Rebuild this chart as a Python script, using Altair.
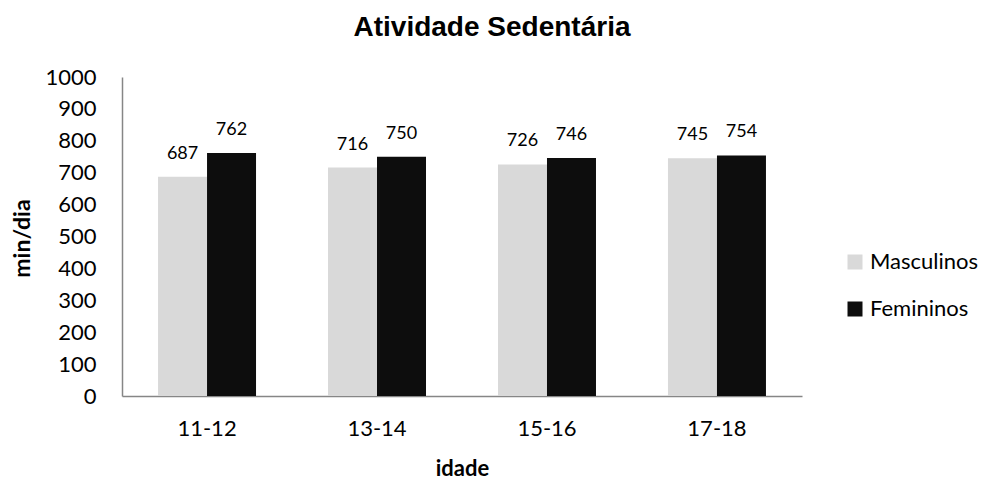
import altair as alt
import pandas as pd

grupos = ["11-12", "13-14", "15-16", "17-18"]
masculinos = [687, 716, 726, 745]
femininos = [762, 750, 746, 754]
series = ["Masculinos", "Femininos"]
cores = ["#D9D9D9", "#0D0D0D"]
y_ticks = [0, 100, 200, 300, 400, 500, 600, 700, 800, 900, 1000]

rows = []
for g, m, f in zip(grupos, masculinos, femininos):
    rows.append({"idade": g, "sexo": "Masculinos", "valor": m})
    rows.append({"idade": g, "sexo": "Femininos", "valor": f})
df = pd.DataFrame(rows)

W, H = 680, 319
FONT = "Lato"

x = alt.X("idade:N", sort=grupos,
          scale=alt.Scale(paddingInner=0.4235, paddingOuter=0.212),
          axis=alt.Axis(title="idade", labelAngle=0, labelFont=FONT, labelFontSize=22,
                        labelColor="#000000", labelPadding=22, tickSize=0,
                        domainColor="#868686", domainWidth=1.5,
                        titleFont=FONT, titleFontSize=22, titleFontWeight="bold",
                        titleColor="#000000", titleX=W / 2, titleY=79,
                        titleBaseline="alphabetic", titleAlign="center"))
xo = alt.XOffset("sexo:N", sort=series, scale=alt.Scale(paddingInner=0, paddingOuter=0))

y = alt.Y("valor:Q", scale=alt.Scale(domain=[0, 1000], nice=False),
          axis=alt.Axis(title="min/dia", values=y_ticks,
                        format="d", labelOverlap=False, labelBound=False,
                        grid=False, tickSize=0, labelPadding=26,
                        labelFont=FONT, labelFontSize=22, labelColor="#000000",
                        domainColor="#868686", domainWidth=1.5,
                        titleFont=FONT, titleFontSize=23, titleFontWeight="bold",
                        titleColor="#000000", titleAngle=-90, titleX=-100,
                        titleY=161, titleBaseline="middle", titleAlign="center"))

base = alt.Chart(df)

bars = base.mark_bar().encode(
    x=x,
    xOffset=xo,
    y=y,
    color=alt.Color("sexo:N", sort=series,
                    scale=alt.Scale(domain=series, range=cores),
                    legend=alt.Legend(title=None, orient="none", legendX=722, legendY=174,
                                      symbolType="square", symbolSize=225,
                                      symbolStrokeWidth=0, labelFont=FONT,
                                      labelFontSize=22, labelColor="#000000",
                                      rowPadding=25, labelOffset=4)),
)

labels = base.mark_text(baseline="bottom", dy=-14, font=FONT, fontSize=18,
                        color="#000000").encode(
    x=x,
    xOffset=xo,
    y=y,
    text="valor:Q",
)

chart = (bars + labels).properties(
    width=W, height=H,
    title=alt.TitleParams("Atividade Sedentária", font="Liberation Sans", fontSize=28,
                          fontWeight="bold", color="#000000", anchor="middle",
                          dx=30, offset=24),
    autosize=alt.AutoSizeParams(type="none"),
    padding={"left": 114, "top": 69, "right": 180, "bottom": 90},
).configure_view(stroke=None)

chart.save("out.html", embed_options={"renderer": "svg", "actions": False})
